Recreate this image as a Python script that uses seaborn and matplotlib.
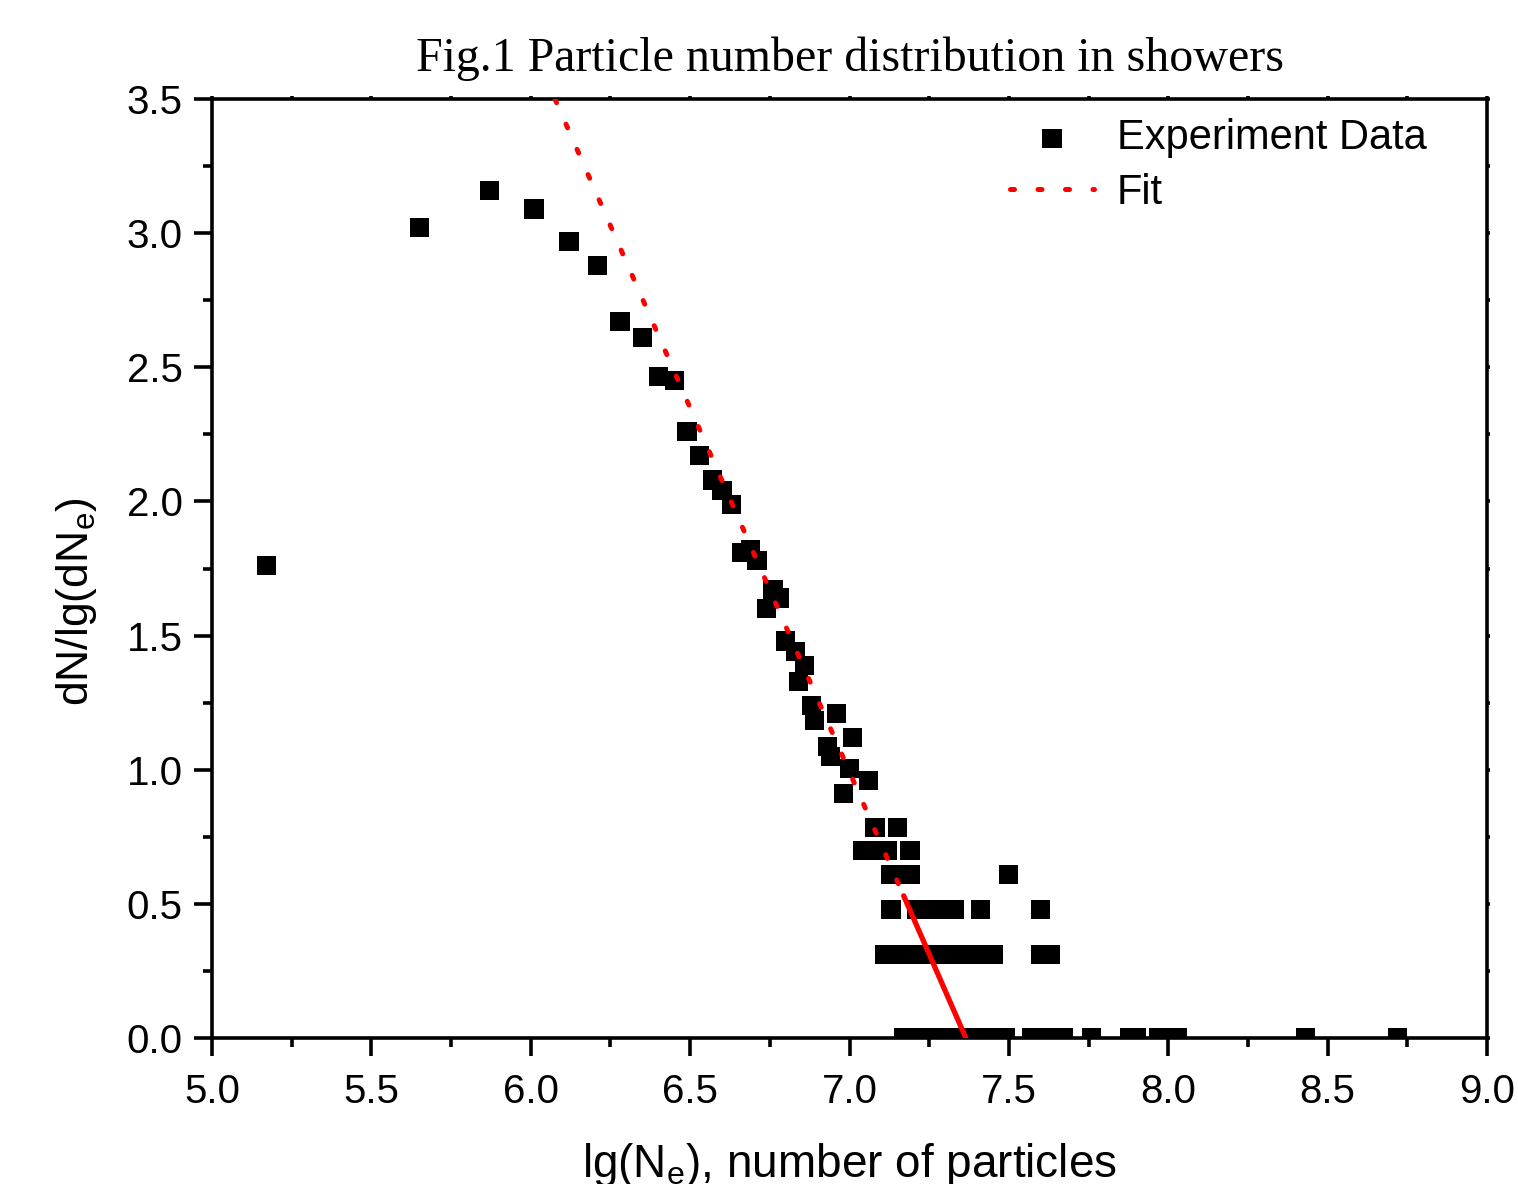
import numpy as np
import pandas as pd
import matplotlib
matplotlib.use("Agg")
import matplotlib.pyplot as plt
import seaborn as sns
from matplotlib.ticker import MultipleLocator, FormatStrFormatter

sns.set_theme(style="white")
plt.rcParams['font.family'] = ['Liberation Sans', 'DejaVu Sans']
plt.rcParams['text.color'] = 'black'
plt.rcParams['axes.labelcolor'] = 'black'
plt.rcParams['xtick.color'] = 'black'
plt.rcParams['ytick.color'] = 'black'

# Experiment data (lg(Ne), dN/lg(dNe))
x_data = [5.17, 5.65, 5.87, 6.01, 6.12, 6.21, 6.28, 6.35, 6.40, 6.45,
          6.49, 6.53, 6.57, 6.60, 6.63, 6.66, 6.69, 6.71, 6.76, 6.74,
          6.78, 6.80, 6.83, 6.86, 6.84, 6.88, 6.96, 6.89, 7.01, 6.93,
          6.94, 7.00, 7.06, 6.98, 7.08, 7.15,
          7.04, 7.08, 7.12, 7.19,
          7.13, 7.19, 7.50,
          7.13, 7.21, 7.27, 7.33, 7.41, 7.60,
          7.11, 7.16, 7.21, 7.27, 7.32, 7.34, 7.40, 7.45, 7.60, 7.63,
          7.17, 7.23, 7.28, 7.33, 7.39, 7.44, 7.49, 7.57, 7.62, 7.67,
          7.76, 7.88, 7.90, 7.97, 8.03, 8.43, 8.72]
y_data = [1.76, 3.02, 3.16, 3.09, 2.97, 2.88, 2.67, 2.61, 2.465, 2.45,
          2.26, 2.17, 2.08, 2.04, 1.99, 1.81, 1.82, 1.78, 1.67, 1.60,
          1.64, 1.48, 1.44, 1.39, 1.33, 1.24, 1.21, 1.185, 1.12, 1.085,
          1.05, 1.005, 0.96, 0.91, 0.785, 0.785,
          0.70, 0.70, 0.70, 0.70,
          0.61, 0.61, 0.61,
          0.48, 0.48, 0.48, 0.48, 0.48, 0.48,
          0.31, 0.31, 0.31, 0.31, 0.31, 0.31, 0.31, 0.31, 0.31, 0.31,
          0.0, 0.0, 0.0, 0.0, 0.0, 0.0, 0.0, 0.0, 0.0, 0.0,
          0.0, 0.0, 0.0, 0.0, 0.0, 0.0, 0.0]

# Linear fit: dotted part and solid part
fit_dot_x = [6.076, 7.17]
fit_dot_y = [3.5, 0.53]
fit_solid_x = [7.17, 7.365]
fit_solid_y = [0.53, 0.0]

df = pd.DataFrame({"x": x_data, "y": y_data})

fig = plt.figure(figsize=(15.18, 11.84), dpi=100)
ax = fig.add_axes([212/1518, 1-1038/1184, (1487-212)/1518, (1038-99)/1184])

sns.scatterplot(data=df, x="x", y="y", ax=ax, marker="s", s=190, color="black",
                edgecolor="none", linewidth=0, label="Experiment Data", zorder=3)
sns.lineplot(x=fit_dot_x, y=fit_dot_y, ax=ax, color="red", linestyle=(0, (0.8, 4.7)),
             linewidth=3.6, label="Fit", zorder=4, dash_capstyle="round")
sns.lineplot(x=fit_solid_x, y=fit_solid_y, ax=ax, color="red", linestyle="-",
             linewidth=3.8, zorder=4, legend=False)

ax.set_xlim(5.0, 9.0)
ax.set_ylim(0.0, 3.5)
ax.xaxis.set_major_locator(MultipleLocator(0.5))
ax.xaxis.set_minor_locator(MultipleLocator(0.25))
ax.yaxis.set_major_locator(MultipleLocator(0.5))
ax.yaxis.set_minor_locator(MultipleLocator(0.25))
ax.xaxis.set_major_formatter(FormatStrFormatter('%.1f'))
ax.yaxis.set_major_formatter(FormatStrFormatter('%.1f'))

for s in ax.spines.values():
    s.set_linewidth(2.6)
    s.set_color("black")

ax.tick_params(axis="both", which="major", direction="out", length=13, width=2.6,
               labelsize=29, colors="black", bottom=True, left=True,
               top=True, right=True)
ax.tick_params(axis="x", which="major", pad=12)
ax.tick_params(axis="y", which="major", pad=8)
ax.tick_params(axis="both", which="minor", direction="out", length=6.5, width=2.6,
               bottom=True, left=True, top=True, right=True)
for t in ax.xaxis.get_major_ticks() + ax.xaxis.get_minor_ticks():
    t.tick2line.set_markersize(2)
for t in ax.yaxis.get_major_ticks() + ax.yaxis.get_minor_ticks():
    t.tick2line.set_markersize(2)

ax.set_xlabel("lg(N$_{\\mathregular{e}}$), number of particles", fontsize=33, labelpad=22)
ax.set_ylabel("dN/lg(dN$_{\\mathregular{e}}$)", fontsize=32, labelpad=20)
ax.yaxis.label.set_y(0.465)
ax.set_title("Fig.1 Particle number distribution in showers", fontsize=34.5,
             family=["Liberation Serif", "DejaVu Serif"], pad=20, color="black")

leg = ax.legend(loc="upper right", frameon=False, fontsize=30, markerscale=1.0,
                handlelength=2.0, handletextpad=0.55, borderaxespad=0.2,
                labelspacing=0.35, bbox_to_anchor=(0.972, 1.006))

fig.savefig("out.png", dpi=100)
